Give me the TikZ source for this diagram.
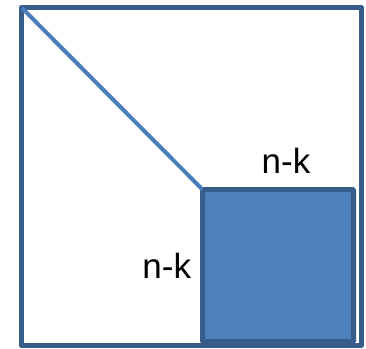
\documentclass[tikz,border=0pt]{standalone}
\usepackage{fontspec}
\setmainfont{Liberation Sans}
\definecolor{edgeblue}{HTML}{385D8A}
\definecolor{fillblue}{HTML}{4F81BD}
\definecolor{lineblue}{HTML}{4A7EBB}
\tikzset{
  outerbox/.style={draw=edgeblue,line width=5pt,line join=round},
  innerbox/.style={draw=edgeblue,fill=fillblue,line width=5pt,rounded corners=1pt,outer sep=0pt,inner sep=0pt},
  diag/.style={draw=lineblue,line width=4pt},
  lbl/.style={font=\fontsize{35}{40}\selectfont,anchor=base,inner sep=0pt}
}
\begin{document}
\begin{tikzpicture}[x=1pt,y=-1pt]
\useasboundingbox (0,0) rectangle (366,348);
\draw[outerbox] (21.5,7.5) rectangle (361.5,345.5);
\coordinate (tl) at (22,8);
\node[innerbox,minimum width=151pt,minimum height=152pt,anchor=north west] (sq) at (202.5,189.5) {};
\draw[diag] (tl) -- (sq.north west);
\node[lbl] (top) at (286,173.3) {n-k};
\node[lbl] (left) at (166.7,278.3) {n-k};
\end{tikzpicture}
\end{document}
